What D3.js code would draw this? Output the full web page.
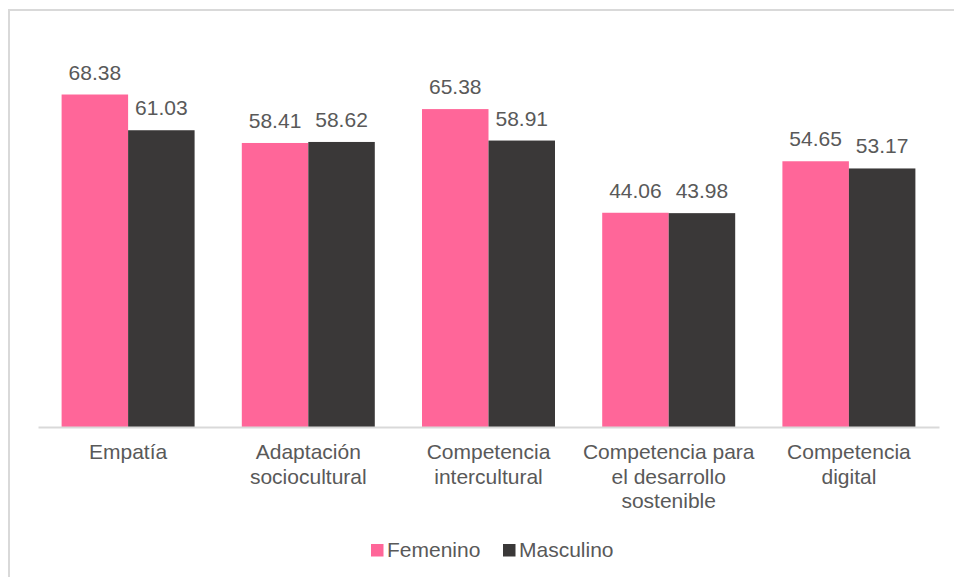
<!DOCTYPE html>
<html><head><meta charset="utf-8">
<script src="https://cdn.jsdelivr.net/npm/d3@7"></script>
<style>body{margin:0;background:#fff}svg{display:block}</style>
</head><body>
<script>
const categories = [["Empatía"],["Adaptación","sociocultural"],["Competencia","intercultural"],["Competencia para","el desarrollo","sostenible"],["Competencia","digital"]];
const categoryKeys = ["Empatía","Adaptación sociocultural","Competencia intercultural","Competencia para el desarrollo sostenible","Competencia digital"];
const seriesNames = ["Femenino","Masculino"];
const femenino = [68.38, 58.41, 65.38, 44.06, 54.65];
const masculino = [61.03, 58.62, 58.91, 43.98, 53.17];
const colors = ["#FF6699","#3A3838"];

const W = 954, H = 577;
const svg = d3.select("body").append("svg").attr("width", W).attr("height", H);
const font = "'Liberation Sans', Arial, sans-serif";
const txt = "#595959";

// chart border (top and left visible)
svg.append("rect").attr("x", 9).attr("y", 10).attr("width", 960).attr("height", 600)
  .attr("fill", "none").attr("stroke", "#D9D9D9").attr("stroke-width", 2);

const x0 = d3.scaleBand().domain(categoryKeys).range([38, 939]).paddingInner(0).paddingOuter(0);
const y = d3.scaleLinear().domain([0, 80]).range([427, 38]);
const x1 = d3.scaleBand().domain(seriesNames).range([0, x0.bandwidth()]).paddingInner(0).paddingOuter(0.355);

const series = [femenino, masculino];
const g = svg.append("g");
categoryKeys.forEach((c, i) => {
  seriesNames.forEach((s, j) => {
    const v = series[j][i];
    g.append("rect")
      .attr("x", x0(c) + x1(s))
      .attr("y", y(v))
      .attr("width", x1.bandwidth())
      .attr("height", y(0) - y(v))
      .attr("fill", colors[j]);
    g.append("text")
      .attr("x", x0(c) + x1(s) + x1.bandwidth() / 2)
      .attr("y", y(v) - 15)
      .attr("text-anchor", "middle")
      .attr("font-family", font).attr("font-size", 21).attr("fill", txt)
      .text(v.toFixed(2));
  });
});

// axis line
const axis = d3.axisBottom(x0).tickSize(0).tickFormat("");
const ax = svg.append("g").attr("transform", `translate(0,${y(0)})`).call(axis);
ax.select(".domain").attr("stroke", "#D9D9D9").attr("stroke-width", 2);

// category labels
categoryKeys.forEach((c, i) => {
  const t = svg.append("text").attr("text-anchor", "middle")
    .attr("font-family", font).attr("font-size", 21).attr("fill", txt);
  categories[i].forEach((line, k) => {
    t.append("tspan").attr("x", x0(c) + x0.bandwidth() / 2).attr("y", 459 + k * 24.5).text(line);
  });
});

// legend
const legendItems = [{n: "Femenino", x: 371}, {n: "Masculino", x: 503}];
legendItems.forEach((d, j) => {
  svg.append("rect").attr("x", d.x).attr("y", 544).attr("width", 12.5).attr("height", 12.5).attr("fill", colors[j]);
  svg.append("text").attr("x", d.x + 16).attr("y", 556.5)
    .attr("font-family", font).attr("font-size", 21).attr("fill", txt).text(d.n);
});
</script>
</body></html>
